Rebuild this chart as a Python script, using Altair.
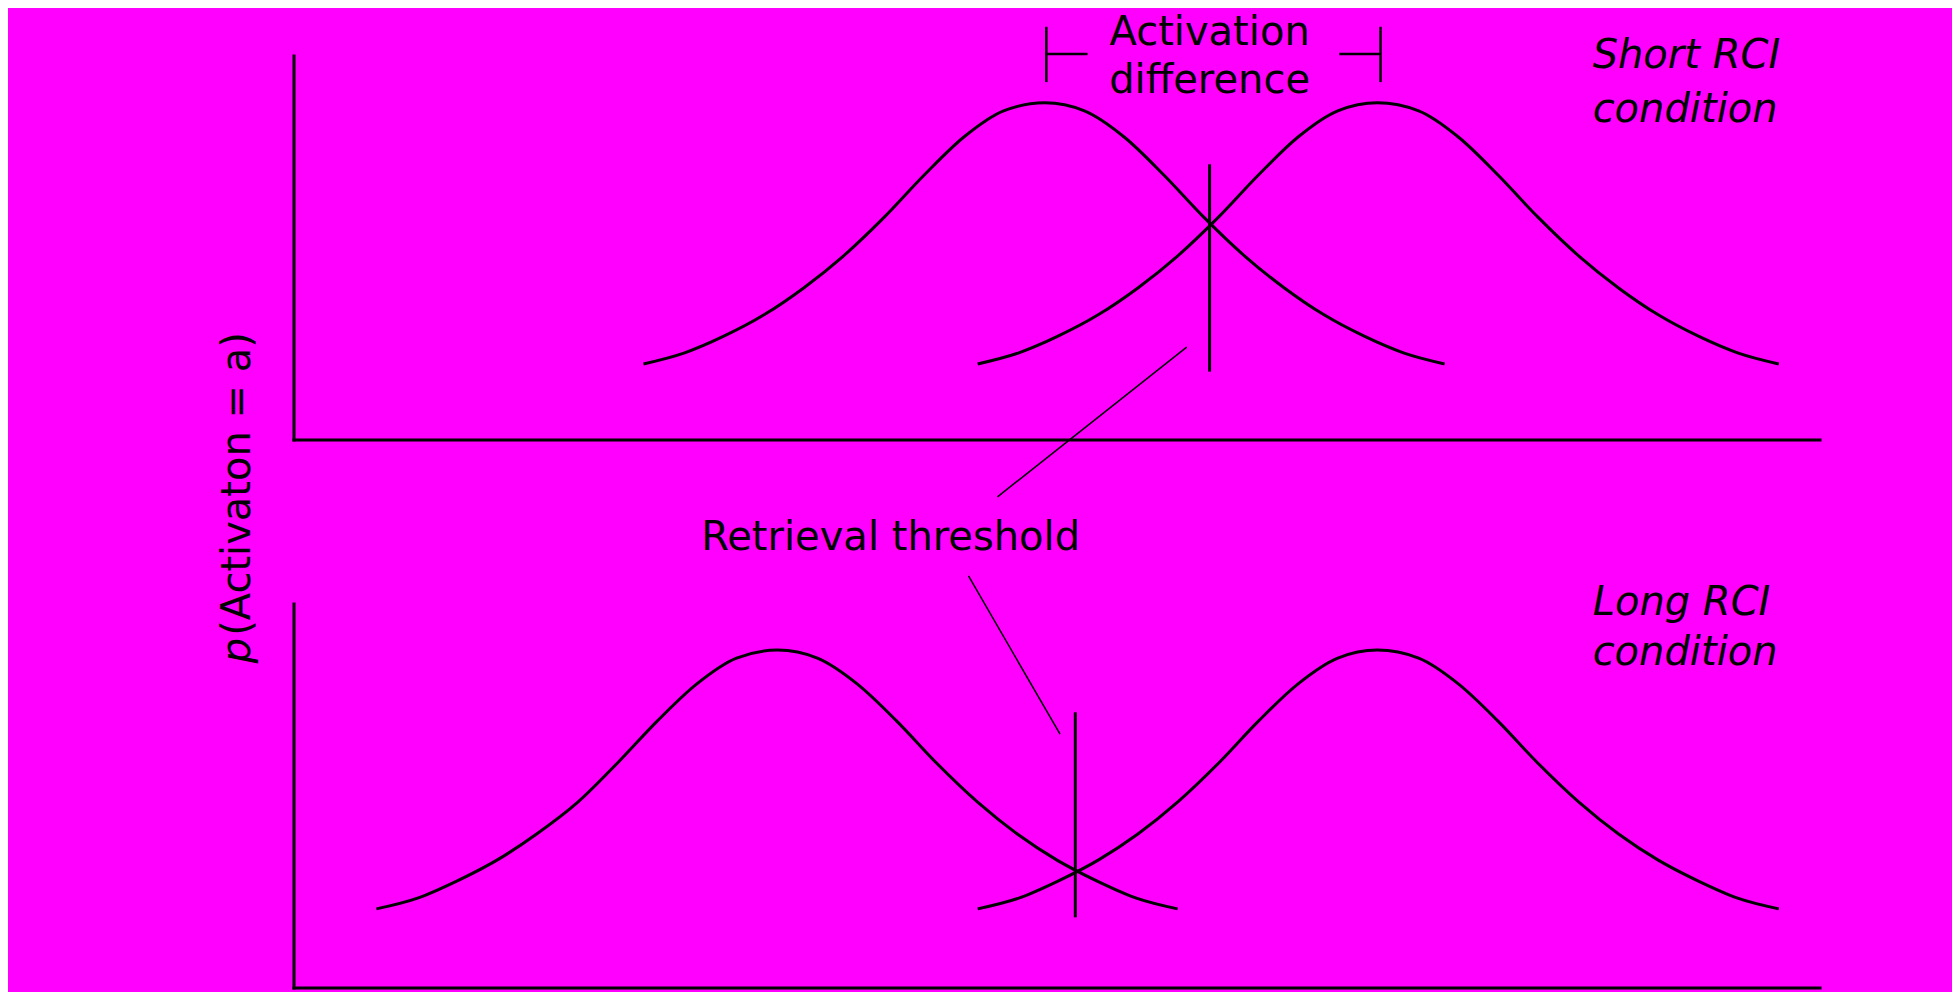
import altair as alt
import pandas as pd

# ---------------- data ----------------
# x: activation (each panel's x axis runs 0..100); y: p(activation) (each panel's y axis runs 0..100)
SHORT_LEFT_X = [22.9, 25.6, 28.2, 30.8, 33.4, 36.0, 38.7, 41.3, 43.9, 46.5, 49.2,
                51.8, 54.4, 57.0, 59.6, 62.3, 64.9, 67.5, 70.1, 72.7, 75.4]
SHORT_LEFT_Y = [19.8, 22.7, 27.1, 32.6, 39.6, 47.9, 58.1, 69.0, 78.9, 85.7, 87.8,
                85.7, 78.9, 69.0, 58.1, 47.9, 39.6, 32.6, 27.1, 22.7, 19.8]

SHORT_RIGHT_X = [44.8, 47.5, 50.1, 52.7, 55.3, 57.9, 60.6, 63.2, 65.8, 68.4, 71.0,
                 73.7, 76.3, 78.9, 81.5, 84.2, 86.8, 89.4, 92.0, 94.6, 97.3]
SHORT_RIGHT_Y = [19.8, 22.7, 27.1, 32.6, 39.6, 47.9, 58.1, 69.0, 78.9, 85.7, 87.8,
                 85.7, 78.9, 69.0, 58.1, 47.9, 39.6, 32.6, 27.1, 22.7, 19.8]

LONG_LEFT_X = [5.4, 8.1, 10.7, 13.3, 15.9, 18.6, 21.2, 23.8, 26.4, 29.0, 31.7,
               34.3, 36.9, 39.5, 42.1, 44.8, 47.4, 50.0, 52.6, 55.2, 57.9]
LONG_LEFT_Y = [20.6, 23.4, 27.9, 33.3, 40.1, 48.4, 58.6, 69.5, 79.2, 85.9, 88.0,
               85.9, 79.2, 69.5, 58.6, 48.4, 40.1, 33.3, 27.9, 23.4, 20.6]

LONG_RIGHT_X = [44.8, 47.5, 50.1, 52.7, 55.3, 57.9, 60.6, 63.2, 65.8, 68.4, 71.0,
                73.7, 76.3, 78.9, 81.5, 84.2, 86.8, 89.4, 92.0, 94.6, 97.3]
LONG_RIGHT_Y = [20.6, 23.4, 27.9, 33.3, 40.1, 48.4, 58.6, 69.5, 79.2, 85.9, 88.0,
                85.9, 79.2, 69.5, 58.6, 48.4, 40.1, 33.3, 27.9, 23.4, 20.6]

PANELS = ["short", "long"]
AXIS_MAX = [100, 100]
THRESHOLD_X = [60.0, 51.2]
THRESHOLD_LO = [18.2, 18.8]
THRESHOLD_HI = [71.4, 71.4]

# "Activation difference" bracket (short panel)
BRACKET_TICKS_X = [49.3, 71.2]
BRACKET_TICK_LO, BRACKET_TICK_HI = 93.2, 107.6
BRACKET_BAR_Y = 100.5
BRACKET_BARS = [(49.3, 52.0), (68.5, 71.2)]

# leader lines from the "Retrieval threshold" label: (panel, x1, y1, x2, y2)
LEADERS = [("short", 58.5, 24.2, 46.1, -14.8), ("long", 44.2, 107.3, 50.2, 66.1)]

CENTER_TEXT = [("Activation", "short", 60.0, 102.9), ("difference", "short", 60.0, 90.4),
               ("Retrieval threshold", "long", 39.1, 114.1)]
ITALIC_TEXT = [("Short RCI", "short", 85.1, 96.9), ("condition", "short", 85.1, 82.8),
               ("Long RCI", "long", 85.1, 97.1), ("condition", "long", 85.1, 84.1)]
YLABEL_ITALIC = [("p", "long", -2.9, 84.6)]
YLABEL_REST = [("(Activaton = a)", "long", -2.9, 91.7)]

# ---------------- layout ----------------
W, H = 1944, 984
AX_X0, AX_X1 = 286, 1812         # x-axis span in chart pixels
BOT_BASE = 980                   # baseline of the lower panel in chart pixels
PANEL_PX, GAP_PX = 384, 164
kx = (AX_X1 - AX_X0) / 100.0
ky = PANEL_PX / 100.0
XDOM = [-AX_X0 / kx, (W - AX_X0) / kx]
YDOM = [-(H - BOT_BASE) / ky, BOT_BASE / ky]
OFFSET = {"short": (PANEL_PX + GAP_PX) / ky, "long": 0.0}

FONT = "DejaVu Sans"
BG = "#FF00FF"

# ---------------- tables ----------------
rows = []
for name, panel, xs, ys in [("sl", "short", SHORT_LEFT_X, SHORT_LEFT_Y), ("sr", "short", SHORT_RIGHT_X, SHORT_RIGHT_Y),
                            ("ll", "long", LONG_LEFT_X, LONG_LEFT_Y), ("lr", "long", LONG_RIGHT_X, LONG_RIGHT_Y)]:
    for i, (xv, yv) in enumerate(zip(xs, ys)):
        rows.append({"series": name, "i": i, "x": xv, "yp": yv + OFFSET[panel]})
curves = pd.DataFrame(rows)

thick = []
for p, m, tx, lo, hi in zip(PANELS, AXIS_MAX, THRESHOLD_X, THRESHOLD_LO, THRESHOLD_HI):
    o = OFFSET[p]
    thick.append({"x": 0, "x2": 0, "yp": o, "yp2": o + m})          # y axis
    thick.append({"x": 0, "x2": m, "yp": o, "yp2": o})              # x axis
    thick.append({"x": tx, "x2": tx, "yp": o + lo, "yp2": o + hi})  # retrieval threshold
thick = pd.DataFrame(thick)

o = OFFSET["short"]
bracket = [{"x": bx, "x2": bx, "yp": o + BRACKET_TICK_LO, "yp2": o + BRACKET_TICK_HI} for bx in BRACKET_TICKS_X]
bracket += [{"x": a, "x2": b, "yp": o + BRACKET_BAR_Y, "yp2": o + BRACKET_BAR_Y} for a, b in BRACKET_BARS]
bracket = pd.DataFrame(bracket)

leaders = pd.DataFrame([{"x": x1, "x2": x2, "yp": y1 + OFFSET[p], "yp2": y2 + OFFSET[p]}
                        for p, x1, y1, x2, y2 in LEADERS])


def text_df(items):
    return pd.DataFrame([{"label": t, "x": xv, "yp": yv + OFFSET[p]} for t, p, xv, yv in items])


XS = alt.Scale(domain=XDOM, nice=False, zero=False)
YS = alt.Scale(domain=YDOM, nice=False, zero=False)
X = alt.X("x:Q", scale=XS, axis=None)
Y = alt.Y("yp:Q", scale=YS, axis=None)
X2 = alt.X2("x2:Q")
Y2 = alt.Y2("yp2:Q")

curve_layer = alt.Chart(curves).mark_line(color="black", strokeWidth=3, interpolate="monotone").encode(
    x=X, y=Y, detail="series:N", order=alt.Order("i:Q"))
thick_layer = alt.Chart(thick).mark_rule(color="black", strokeWidth=3, strokeCap="square").encode(
    x=X, x2=X2, y=Y, y2=Y2)
bracket_layer = alt.Chart(bracket).mark_rule(color="black", strokeWidth=2.5).encode(x=X, x2=X2, y=Y, y2=Y2)
leader_layer = alt.Chart(leaders).mark_rule(color="black", strokeWidth=1.6).encode(x=X, x2=X2, y=Y, y2=Y2)

center_text = alt.Chart(text_df(CENTER_TEXT)).mark_text(
    align="center", baseline="alphabetic", font=FONT, fontSize=40, color="black").encode(x=X, y=Y, text="label:N")
italic_text = alt.Chart(text_df(ITALIC_TEXT)).mark_text(
    align="left", baseline="alphabetic", font=FONT, fontSize=40, fontStyle="italic", color="black").encode(
    x=X, y=Y, text="label:N")
ylab_p = alt.Chart(text_df(YLABEL_ITALIC)).mark_text(
    align="left", baseline="alphabetic", angle=270, font=FONT, fontSize=40, fontStyle="italic", color="black").encode(
    x=X, y=Y, text="label:N")
ylab_rest = alt.Chart(text_df(YLABEL_REST)).mark_text(
    align="left", baseline="alphabetic", angle=270, font=FONT, fontSize=40, color="black").encode(
    x=X, y=Y, text="label:N")

chart = alt.layer(
    thick_layer, curve_layer, bracket_layer, leader_layer, center_text, italic_text, ylab_p, ylab_rest
).properties(
    width=W, height=H, background=BG, padding=0, autosize="none"
).configure_view(stroke=None)

chart.save("out.html", embed_options={"renderer": "svg", "actions": False})
